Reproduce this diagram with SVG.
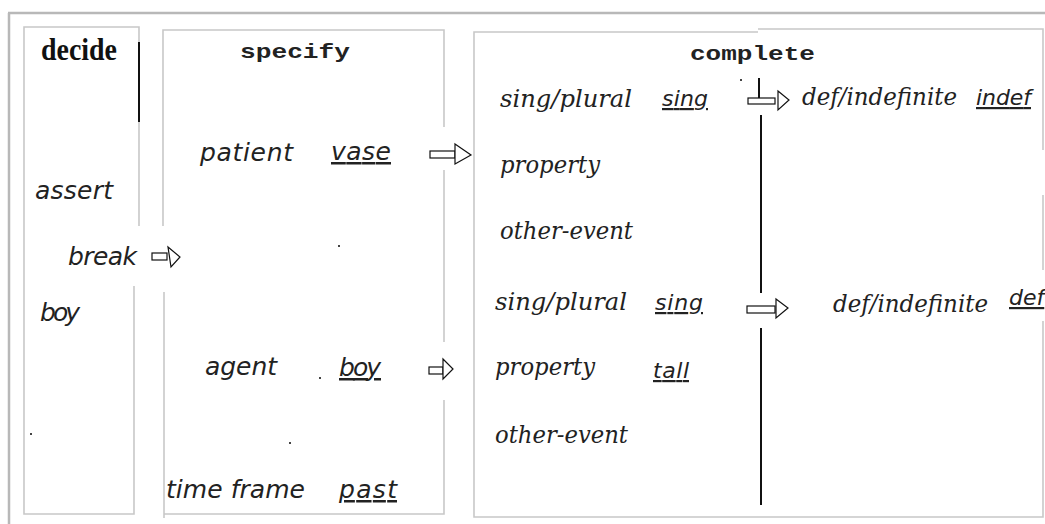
<svg xmlns="http://www.w3.org/2000/svg" width="1045" height="524" viewBox="0 0 1045 524">
<style>
.frame{stroke:#b8b8b8;stroke-width:2.5;fill:none}
.box{stroke:#c8c8c8;stroke-width:1.6;fill:none}
.bar{stroke:#111;stroke-width:2;fill:none}
.arr{stroke:#111;stroke-width:1.2;fill:#fff}
.title-serif{font-family:"Liberation Serif",serif;font-weight:bold;font-size:31px;fill:#111}
.title-mono{font-family:"Liberation Mono",monospace;font-weight:bold;font-size:21px;fill:#222}
.sans{font-family:"DejaVu Sans",sans-serif;font-style:italic;font-size:25px;fill:#222}
.val{font-family:"DejaVu Sans",sans-serif;font-style:italic;font-size:22px;fill:#222;text-decoration:underline}
.ser{font-family:"DejaVu Serif",serif;font-style:italic;font-size:25px;fill:#222}
.dot{fill:#444}
</style>
<rect width="1045" height="524" fill="#fff"/>
<g id="frame">
<line class="frame" x1="8" y1="13" x2="1045" y2="13"/>
<line class="frame" x1="9" y1="13" x2="9" y2="524"/>
</g>
<g id="decide">
<path class="box" d="M139,226 V27 H24 V514 H134 V286"/>
<text class="title-serif" x="41" y="60" textLength="76" lengthAdjust="spacingAndGlyphs">decide</text>
<text class="sans" x="35" y="199" textLength="78">assert</text>
<text class="sans" x="68" y="265" textLength="69">break</text>
<text class="sans" x="40" y="321" textLength="40">boy</text>
<rect class="dot" x="30" y="433" width="2" height="2"/>
</g>
<g id="specify">
<path class="box" d="M163,226 V30 H444 V127"/>
<path class="box" d="M444,170 V342"/>
<path class="box" d="M164,292 V518"/>
<path class="box" d="M164,514 H444 V400"/>
<text class="title-mono" x="240" y="58" textLength="110" lengthAdjust="spacingAndGlyphs">specify</text>
<text class="sans" x="200" y="161" textLength="93">patient</text>
<text class="sans" x="331" y="160" textLength="60" style="text-decoration:underline">vase</text>
<text class="sans" x="205" y="375" textLength="72">agent</text>
<text class="sans" x="339" y="376" textLength="42" style="text-decoration:underline">boy</text>
<text class="sans" x="166" y="498" textLength="139">time frame</text>
<text class="sans" x="339" y="498" textLength="58" style="text-decoration:underline">past</text>
<rect class="dot" x="338" y="245" width="2" height="2"/>
<rect class="dot" x="319" y="377" width="2" height="2"/>
<rect class="dot" x="289" y="442" width="2" height="2"/>
</g>
<g id="complete">
<path class="box" d="M758,32 H474 V517 H1043 V321"/>
<path class="box" d="M758,29 H1043 V150"/>
<path class="box" d="M1043,195 V270"/>
<text class="title-mono" x="690" y="60" textLength="125" lengthAdjust="spacingAndGlyphs">complete</text>
<text class="ser" x="500" y="107" textLength="132" lengthAdjust="spacingAndGlyphs">sing/plural</text>
<text class="val" x="662" y="106" textLength="46">sing</text>
<text class="ser" x="802" y="105" textLength="155" lengthAdjust="spacingAndGlyphs">def/indefinite</text>
<text class="val" x="976" y="105" textLength="55">indef</text>
<text class="ser" x="500" y="173" textLength="100" lengthAdjust="spacingAndGlyphs">property</text>
<text class="ser" x="500" y="239" textLength="133" lengthAdjust="spacingAndGlyphs">other-event</text>
<text class="ser" x="495" y="310" textLength="132" lengthAdjust="spacingAndGlyphs">sing/plural</text>
<text class="val" x="655" y="310" textLength="48">sing</text>
<text class="ser" x="833" y="312" textLength="155" lengthAdjust="spacingAndGlyphs">def/indefinite</text>
<text class="val" x="1009" y="305">def</text>
<text class="ser" x="495" y="375" textLength="100" lengthAdjust="spacingAndGlyphs">property</text>
<text class="val" x="653" y="378" textLength="36">tall</text>
<text class="ser" x="495" y="443" textLength="133" lengthAdjust="spacingAndGlyphs">other-event</text>
<rect class="dot" x="740" y="79" width="2" height="2"/>
</g>
<g id="connectors">
<line class="bar" x1="139" y1="42" x2="139" y2="122"/>
<rect class="arr" x="152" y="253" width="15" height="7"/>
<polygon class="arr" points="168,247 180,257 171,267"/>
<rect class="arr" x="430" y="151" width="25" height="7"/>
<polygon class="arr" points="455,144 471,155 455,164"/>
<rect class="arr" x="429" y="367" width="14" height="7"/>
<polygon class="arr" points="443,359 453,369 443,379"/>
<line class="bar" x1="759" y1="78" x2="759" y2="98"/>
<rect class="arr" x="748" y="98" width="27" height="6"/>
<polygon class="arr" points="778,91 789,100 778,110"/>
<line class="bar" x1="761" y1="115" x2="761" y2="293"/>
<rect class="arr" x="747" y="306" width="28" height="7"/>
<polygon class="arr" points="776,299 788,308 776,318"/>
<line class="bar" x1="761" y1="328" x2="761" y2="505"/>
</g>
</svg>
